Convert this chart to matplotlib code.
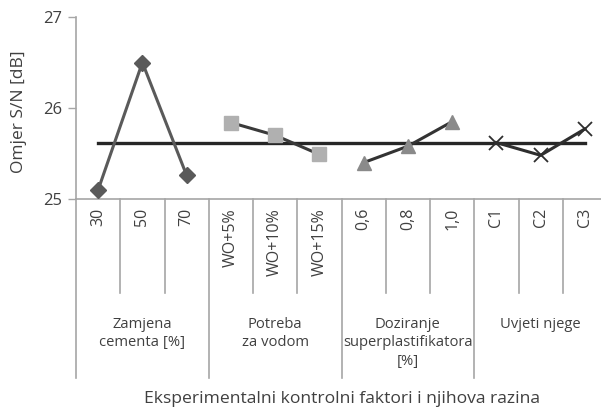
import matplotlib
matplotlib.use("Agg")
import matplotlib.pyplot as plt
import matplotlib.transforms as mtransforms

plt.rcParams['font.family'] = ['Open Sans', 'DejaVu Sans']

# Factor levels and S/N ratios
levels = ["30", "50", "70", "WO+5%", "WO+10%", "WO+15%",
          "0,6", "0,8", "1,0", "C1", "C2", "C3"]
groups = ["Zamjena\ncementa [%]", "Potreba\nza vodom",
          "Doziranje\nsuperplastifikatora\n[%]", "Uvjeti njege"]
cement = [25.10, 26.50, 25.26]
water = [25.84, 25.70, 25.49]
superplast = [25.40, 25.58, 25.85]
curing = [25.62, 25.48, 25.77]
mean_sn = 25.62
yticks = [25, 26, 27]

W, H = 601, 409
fig = plt.figure(figsize=(W / 100, H / 100), dpi=100)
ax_left, ax_top, ax_bottom, ax_right = 76, 17, 199, 607
ax = fig.add_axes([ax_left / W, 1 - ax_bottom / H,
                   (ax_right - ax_left) / W, (ax_bottom - ax_top) / H])

spine_c = "#a6a6a6"
text_c = "#404040"

x = list(range(len(levels)))
ax.plot(x[0:3], cement, color="#5a5a5a", lw=2.2, marker="D", ms=8.5,
        mfc="#5a5a5a", mec="#5a5a5a", zorder=3)
ax.plot(x[3:6], water, color="#3a3a3a", lw=2.2, marker="s", ms=10,
        mfc="#b0b0b0", mec="#b0b0b0", zorder=3)
ax.plot(x[6:9], superplast, color="#333333", lw=2.2, marker="^", ms=10.5,
        mfc="#8a8a8a", mec="#8a8a8a", zorder=3)
ax.plot(x[9:12], curing, color="#2e2e2e", lw=2.2, marker="x", ms=10,
        mew=1.3, mec="#2e2e2e", zorder=3)
ax.plot([x[0], x[-1]], [mean_sn, mean_sn], color="#262626", lw=2.4, zorder=2)

ax.set_xlim(-0.5, len(levels) - 0.5)
ax.set_ylim(25, 27)
ax.set_yticks(yticks)
ax.set_yticklabels([str(t) for t in yticks], fontsize=12, color=text_c)
ax.tick_params(axis="y", length=6, width=1, color=spine_c, pad=4)
ax.set_xticks([])

for s in ["top", "right"]:
    ax.spines[s].set_visible(False)
for s in ["left", "bottom"]:
    ax.spines[s].set_color(spine_c)
    ax.spines[s].set_linewidth(1.2)

axh = ax_bottom - ax_top
def ay(py):
    return (ax_bottom - py) / axh

trans = mtransforms.blended_transform_factory(ax.transData, ax.transAxes)

# separators between levels and between factor groups
for i in range(len(levels)):
    xb = i - 0.5
    bottom = ay(378) if i % 3 == 0 else ay(293)
    ax.plot([xb, xb], [0, bottom], color=spine_c, lw=1.2, transform=trans,
            clip_on=False)

for i, lab in enumerate(levels):
    ax.text(i, ay(208), lab, rotation=90, ha="center", va="top",
            fontsize=11.5, color=text_c, transform=trans, clip_on=False)

for g, lab in enumerate(groups):
    ax.text(3 * g + 1, ay(317), lab, ha="center", va="top", fontsize=10.6,
            color=text_c, linespacing=1.3, transform=trans, clip_on=False)

fig.text((ax_left + ax_right) / 2 / W, 1 - 399 / H,
         "Eksperimentalni kontrolni faktori i njihova razina",
         ha="center", va="center", fontsize=12.6, color=text_c)
fig.text(19 / W, 1 - 112 / H, "Omjer S/N [dB]", rotation=90,
         ha="center", va="center", fontsize=12.5, color=text_c)

fig.savefig("out.png", dpi=100)
